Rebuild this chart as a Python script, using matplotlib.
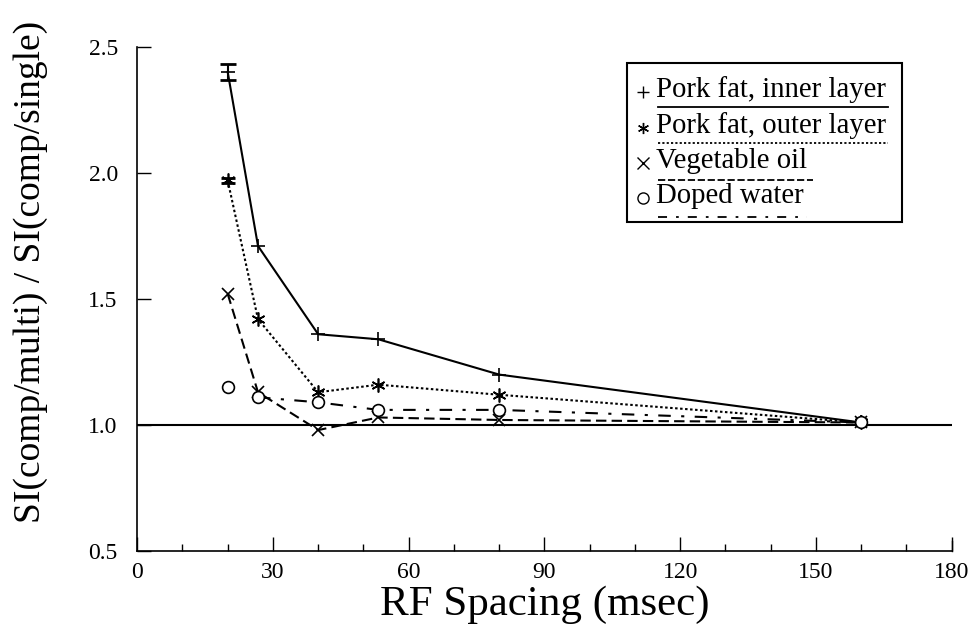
#! /usr/bin/env python3
# coding: utf-8
'''SI ratio vs RF spacing'''

import matplotlib
matplotlib.use("Agg")
import matplotlib.pyplot as plt
from matplotlib.patches import Rectangle

plt.rcParams['font.family'] = ['Liberation Serif', 'DejaVu Serif']

rf_spacing = [20, 26.7, 40, 53.3, 80, 160]
inner_layer = [2.40, 1.71, 1.36, 1.34, 1.20, 1.01]
outer_layer = [1.97, 1.42, 1.13, 1.16, 1.12, 1.01]
vegetable_oil = [1.52, 1.13, 0.98, 1.03, 1.02, 1.01]
doped_water = [1.15, 1.11, 1.09, 1.06, 1.06, 1.01]
inner_err = 0.03
outer_err = 0.01

labels = ['Pork fat, inner layer', 'Pork fat, outer layer',
          'Vegetable oil', 'Doped water']

fig = plt.figure(figsize=(9.8, 6.32), dpi=100)
ax = fig.add_axes([0.14, 0.128, 0.831, 0.798])

lw = 1.5
ast = (6, 2, 0)

ax.axhline(1.0, color='black', lw=lw, zorder=1)

ax.plot(rf_spacing, inner_layer, color='black', lw=lw, ls='-',
        marker='+', ms=10, mew=1.2)
ax.errorbar(rf_spacing[0], inner_layer[0], yerr=inner_err, color='black',
            capsize=6, capthick=2, lw=1.5)
ax.plot(rf_spacing, outer_layer, color='black', lw=lw, ls=(0, (1.2, 1.2)),
        marker=ast, ms=10, mew=1.2)
ax.errorbar(rf_spacing[0], outer_layer[0], yerr=outer_err, color='black',
            capsize=5, capthick=2, lw=1.5)
ax.plot(rf_spacing, vegetable_oil, color='black', lw=lw, ls=(0, (5, 2.5)),
        marker='x', ms=9, mew=1.2)
# first doped water point is not joined to the others
ax.plot(rf_spacing[1:], doped_water[1:], color='black', lw=lw,
        ls=(0, (6, 5, 1.5, 5)))
ax.plot(rf_spacing, doped_water, ls='none', marker='o', ms=8.5,
        mfc='white', mec='black', mew=1.2)

ax.set_xlim(0, 180)
ax.set_ylim(0.5, 2.5)
ax.set_xticks(range(0, 181, 30))
ax.set_xticks(range(0, 181, 10), minor=True)
ax.set_yticks([0.5, 1.0, 1.5, 2.0, 2.5])
ax.yaxis.set_major_formatter(plt.FormatStrFormatter('%.1f'))
ax.tick_params(direction='in', length=10, width=1, labelsize=17, pad=8)
ax.tick_params(axis='x', which='minor', direction='in', length=5, width=1)
ax.tick_params(axis='y', pad=14)
ax.spines['top'].set_visible(False)
ax.spines['right'].set_visible(False)
ax.spines['left'].set_linewidth(1.2)
ax.spines['bottom'].set_linewidth(1.2)
ax.plot([1, 1], [0, 0.02], transform=ax.transAxes, color='black', lw=1,
        clip_on=False)

ax.set_xlabel('RF Spacing (msec)', fontsize=31)
ax.xaxis.set_label_coords(0.5, -0.068)
ax.set_ylabel('SI(comp/multi) / SI(comp/single)', fontsize=27)
ax.yaxis.set_label_coords(-0.11, 0.554)

# hand-made legend box
def px(x, y):
    return fig.transFigure.inverted().transform(
        fig.dpi_scale_trans.transform((x / 100, (632 - y) / 100)))

x0, y0 = px(627, 222)
x1, y1 = px(902, 63)
fig.patches.append(Rectangle((x0, y0), x1 - x0, y1 - y0, fill=False,
                             lw=1.5, ec='black', transform=fig.transFigure))

markers = ['+', ast, 'x', 'o']
styles = ['-', (0, (1.2, 1.2)), (0, (4, 1.5)), (0, (5, 5, 1.5, 5))]
text_y = [90, 126, 161, 196]
line_y = [107, 143, 180, 217]
line_end = [888, 888, 813, 807]
for lab, mk, st, ty, ly, le in zip(labels, markers, styles, text_y,
                                   line_y, line_end):
    mx, my = px(643, ty + 2)
    fig.lines.append(plt.Line2D([mx], [my], marker=mk, ms=8, mew=1,
                                mfc='none', mec='black', color='black',
                                transform=fig.transFigure))
    tx, tyy = px(656, ty)
    fig.text(tx, tyy, lab, fontsize=20.7, va='center', ha='left')
    lx0, lyy = px(658, ly)
    lx1, _ = px(le, ly)
    fig.lines.append(plt.Line2D([lx0, lx1], [lyy, lyy], color='black',
                                lw=1.3, ls=st, transform=fig.transFigure))

fig.savefig('out.png', dpi=100)
